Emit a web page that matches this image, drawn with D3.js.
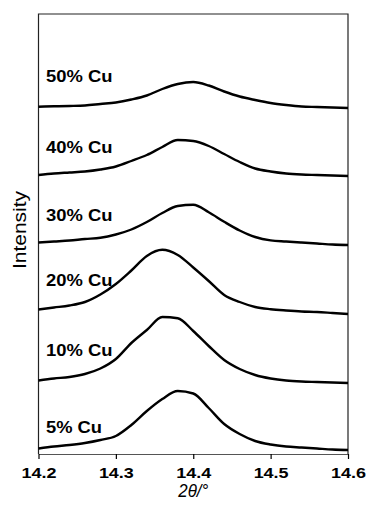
<!DOCTYPE html>
<html>
<head>
<meta charset="utf-8">
<script src="https://cdn.jsdelivr.net/npm/d3@7"></script>
<style>
  body { margin: 0; background: #fff; }
  svg text { font-family: "Liberation Sans", Arial, sans-serif; fill: #000; }
</style>
</head>
<body>
<div id="chart"></div>
<script>
// 2theta sample positions (degrees)
var twoTheta = [14.20, 14.22, 14.24, 14.26, 14.28, 14.30, 14.32, 14.34, 14.36, 14.38, 14.40,
                14.42, 14.44, 14.46, 14.48, 14.50, 14.52, 14.54, 14.56, 14.58, 14.60];

var labels = ["5% Cu", "10% Cu", "20% Cu", "30% Cu", "40% Cu", "50% Cu"];

// vertical stacking offset of each pattern (arbitrary units)
var offsets = [4, 71, 140, 209, 278, 346];

// intensities, above each pattern's offset
var cu5  = [1.5, 3.5, 5, 7, 10, 14, 25, 39, 51, 59, 56.5, 42, 26, 16, 9, 5.5, 3.5, 2.5, 1.5, 0.5, 0];
var cu10 = [2.5, 4.5, 6, 9, 14.5, 24, 40, 53, 66, 64.7, 52, 37, 23, 14, 8, 4.5, 2.5, 1.5, 1, 0.5, 0];
var cu20 = [4.5, 6.5, 8.5, 12, 19.5, 30, 43.5, 58, 64.2, 59, 46.5, 33, 19, 12, 7, 4.8, 3.5, 2.5, 2, 1, 0];
var cu30 = [2.5, 3.5, 4.5, 6, 7.2, 10.5, 15.5, 23, 32, 39, 40.2, 32.7, 23.2, 14.5, 8, 4.6, 3.5, 2.5, 1.5, 0.5, 0];
var cu40 = [1, 2.5, 3.5, 4.5, 6.5, 9.5, 15, 21, 29, 36, 35, 30, 22, 14, 7.5, 4.5, 2.5, 1.5, 1, 0.5, 0];
var cu50 = [1.3, 1.7, 2, 2.5, 4, 5.5, 8.5, 12.5, 19, 24, 26, 22.5, 16.5, 11.5, 8, 5, 3, 1.5, 1, 0.5, 0];

var xTicks = [14.2, 14.3, 14.4, 14.5, 14.6];

var series = [cu5, cu10, cu20, cu30, cu40, cu50];

var margin = {top: 14, right: 20, bottom: 51, left: 38.5},
    fullWidth = 368, fullHeight = 505,
    width = fullWidth - margin.left - margin.right,
    height = fullHeight - margin.top - margin.bottom;

var x = d3.scaleLinear().domain([14.2, 14.6]).range([0, width]);
var y = d3.scaleLinear().domain([0, 440]).range([height, 0]);

var svg = d3.select("#chart").append("svg")
    .attr("width", fullWidth)
    .attr("height", fullHeight)
  .append("g")
    .attr("transform", "translate(" + margin.left + "," + margin.top + ")");

// frame (left, top, right)
svg.append("path")
    .attr("d", "M0," + height + "V0H" + width + "V" + height)
    .attr("fill", "none")
    .attr("stroke", "#222")
    .attr("stroke-width", 1.2);

// patterns
var line = d3.line()
    .curve(d3.curveMonotoneX)
    .x(function(d, i) { return x(twoTheta[i]); })
    .y(function(d) { return y(d.v); });

series.forEach(function(s, k) {
  var pts = s.map(function(v) { return {v: v + offsets[k]}; });
  svg.append("path")
      .datum(pts)
      .attr("fill", "none")
      .attr("stroke", "#000")
      .attr("stroke-width", 2.4)
      .attr("stroke-linejoin", "round")
      .attr("d", line);
});

// pattern labels, placed a little above each baseline
var labelLift = [17, 27, 28, 24, 23, 26];
labels.forEach(function(t, k) {
  svg.append("text")
      .attr("x", 7.5)
      .attr("y", y(offsets[k]) - labelLift[k])
      .style("font-size", "16.5px")
      .style("font-weight", "bold")
      .attr("textLength", t.length === 5 ? 56 : 66.5)
      .attr("lengthAdjust", "spacingAndGlyphs")
      .text(t);
});

// x axis
var xAxis = svg.append("g")
    .attr("transform", "translate(0," + height + ")")
    .call(d3.axisBottom(x)
      .tickValues(xTicks)
      .tickSize(5)
      .tickSizeOuter(0)
      .tickPadding(8)
      .tickFormat(d3.format(".1f")));

xAxis.select(".domain").attr("stroke", "#555").attr("stroke-width", 1.2);
xAxis.selectAll(".tick line").attr("stroke", "#000").attr("stroke-width", 1.2);
xAxis.selectAll(".tick text")
    .style("font-size", "15px")
    .style("font-weight", "bold")
    .attr("fill", "#000")
    .attr("textLength", 35)
    .attr("lengthAdjust", "spacingAndGlyphs");

// axis titles
svg.append("text")
    .attr("x", x(14.4))
    .attr("y", height + 43)
    .attr("text-anchor", "middle")
    .style("font-size", "19px")
    .style("font-style", "italic")
    .attr("textLength", 30)
    .attr("lengthAdjust", "spacingAndGlyphs")
    .text("2\u03B8/\u00B0");

svg.append("text")
    .attr("transform", "translate(" + (-13) + "," + (y(224)) + ") rotate(-90)")
    .attr("text-anchor", "middle")
    .style("font-size", "18.5px")
    .attr("textLength", 78)
    .attr("lengthAdjust", "spacingAndGlyphs")
    .text("Intensity");
</script>
</body>
</html>
